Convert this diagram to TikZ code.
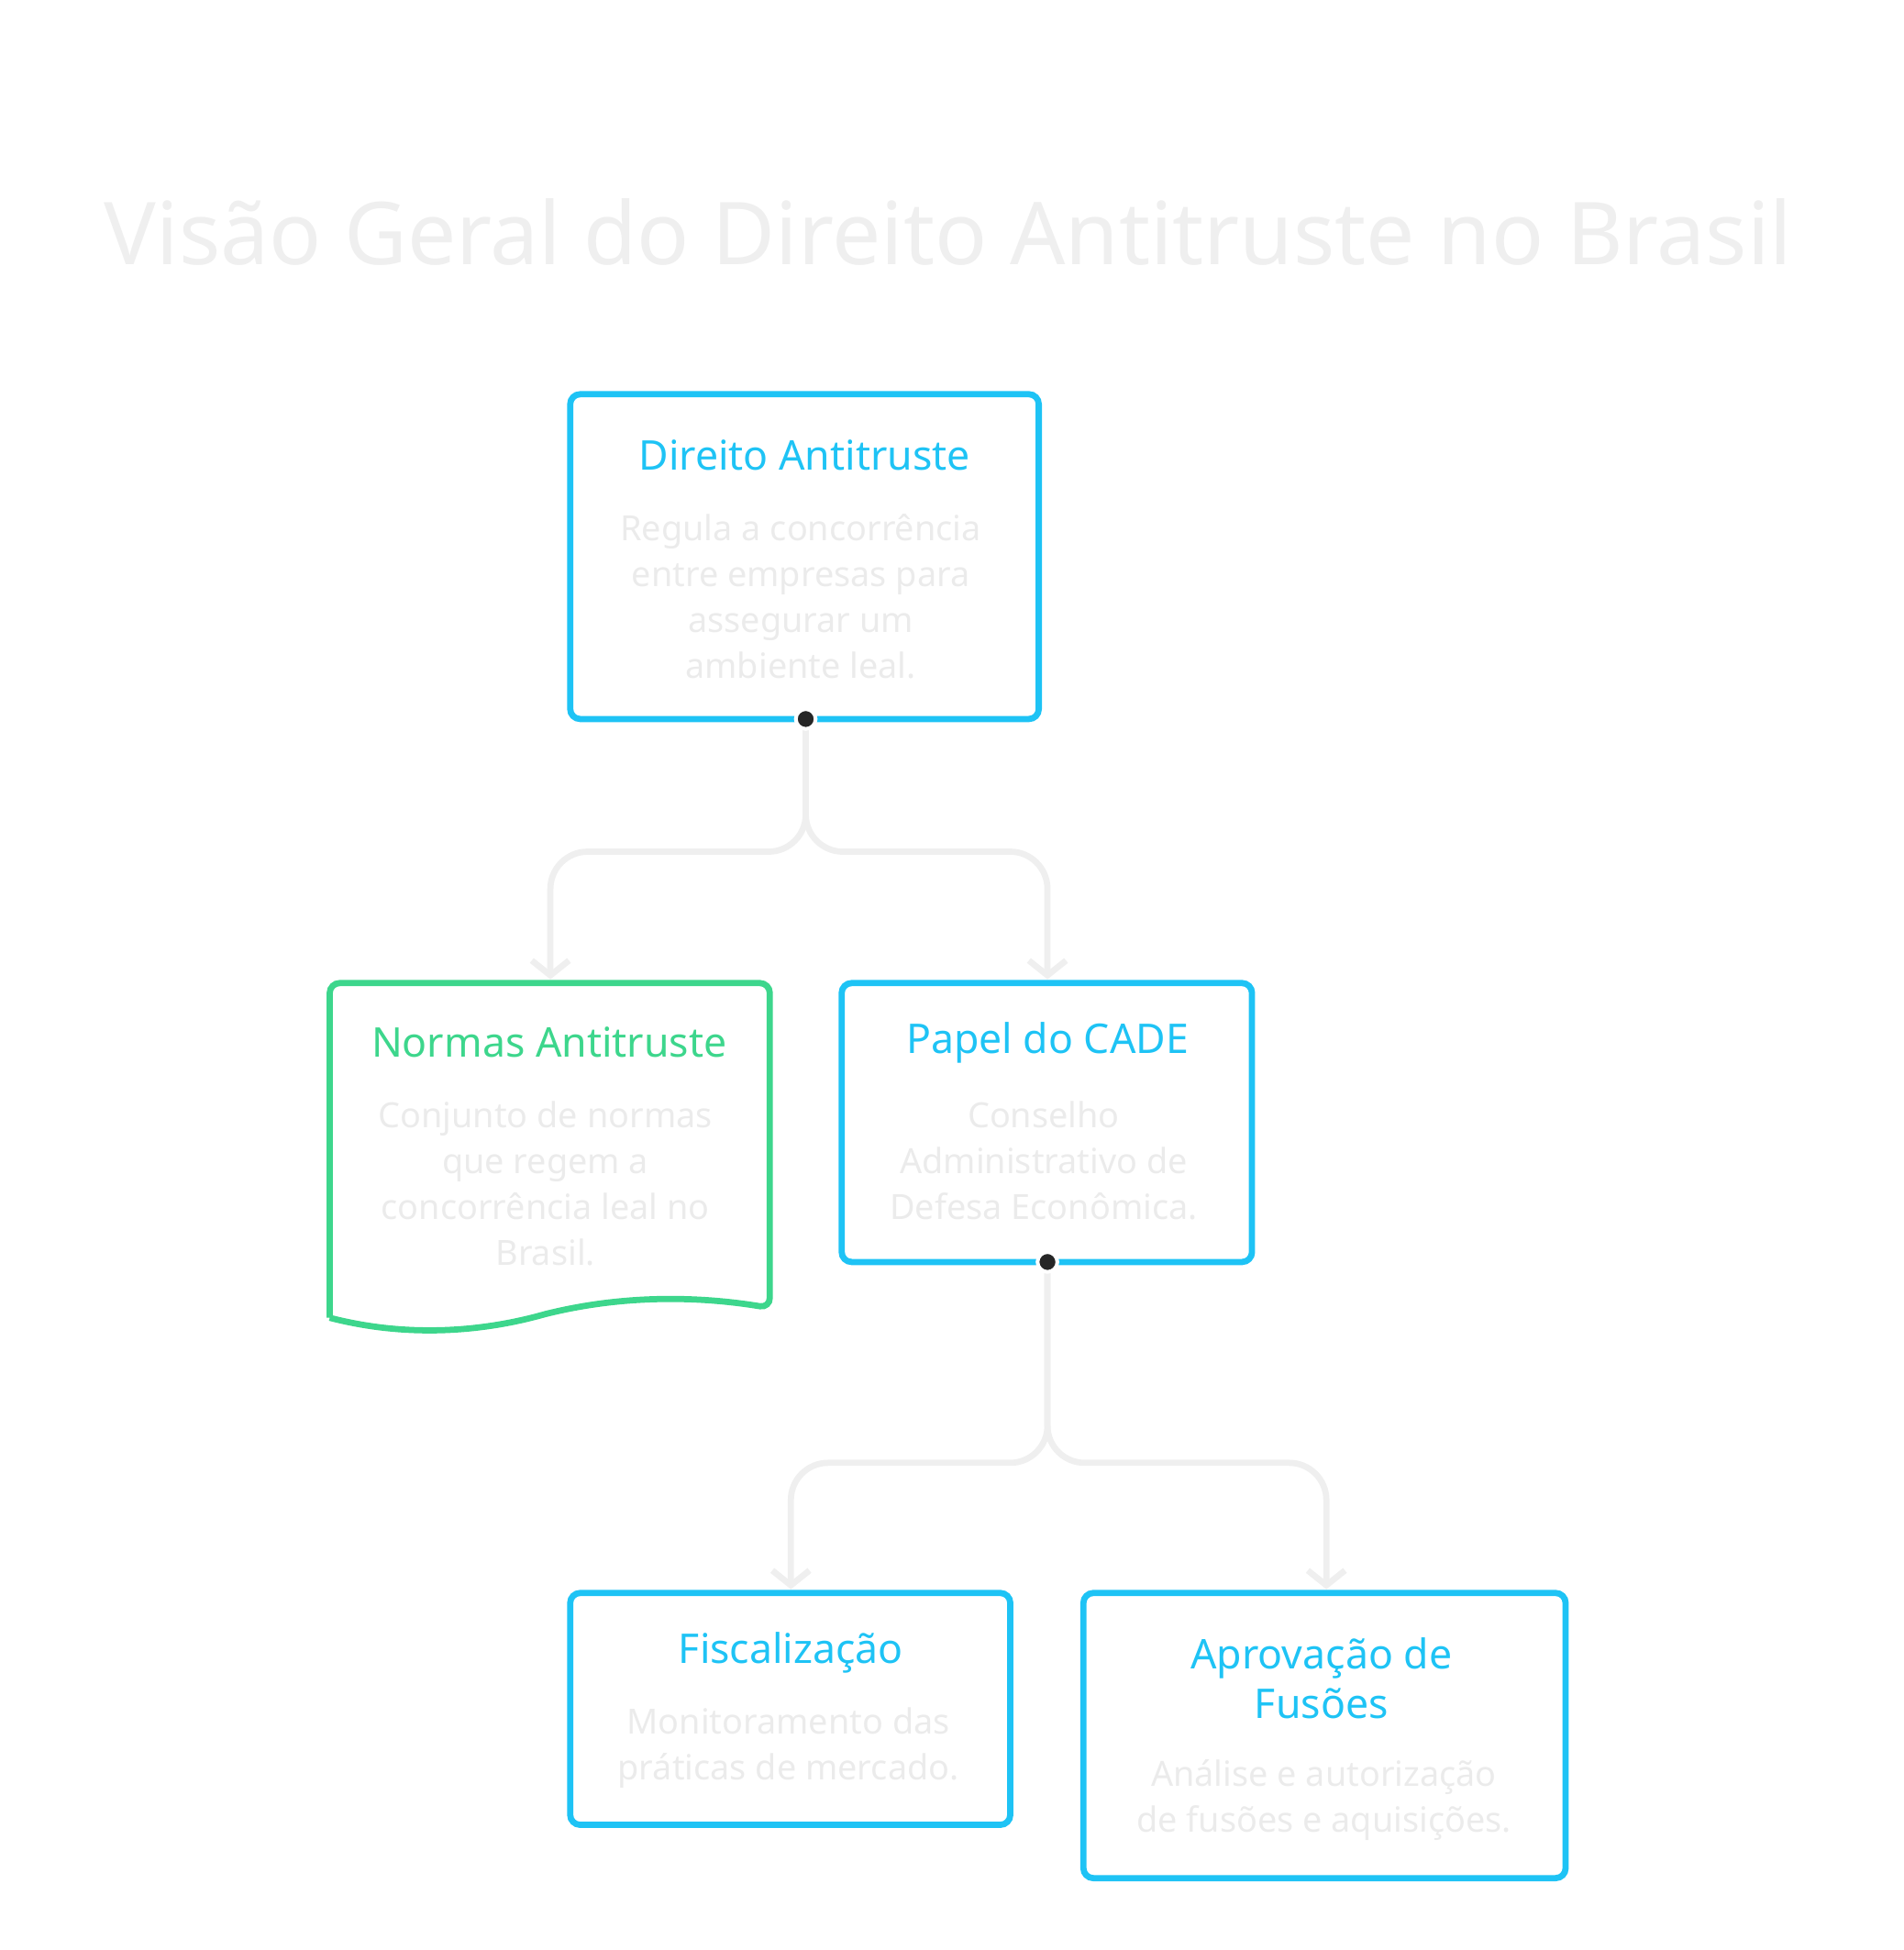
\documentclass[tikz,border=0pt]{standalone}
\usepackage{fontspec}
\setmainfont{Noto Sans}
\usetikzlibrary{arrows.meta}
\definecolor{cblue}{HTML}{1EC3F5}
\definecolor{cgreen}{HTML}{3DD68C}
\definecolor{cgray}{HTML}{EFEFEF}
\definecolor{ctext}{HTML}{EBEBEB}
\begin{document}
\begin{tikzpicture}[x=1pt,y=-1pt,
  box/.style={draw=cblue,line width=5,rounded corners=8},
  ttl/.style={font=\fontsize{33}{40}\selectfont,align=center,inner sep=0},
  bdy/.style={text=ctext,font=\fontsize{28}{37}\selectfont,align=center,inner sep=0},
  con/.style={draw=cgray,line width=5,rounded corners=30,-{Straight Barb[length=12,width=30,line width=5]}},
  dot/.style={circle,fill=black!85,draw=white,line width=3,inner sep=0,minimum size=16}]
\useasboundingbox (0,0) rectangle (1536,1573);
\node[text=cgray,font=\bfseries\fontsize{70}{80}\selectfont] (title) at (765,187) {Visão Geral do Direito Antitruste no Brasil};
% boxes
\draw[box] (460,318) rectangle (838,580);
\node[ttl,text=cblue] (t1) at (649,367) {Direito Antitruste};
\node[bdy] (b1) at (646,481) {Regula a concorrência\\entre empresas para\\assegurar um\\ambiente leal.};
\draw[draw=cgreen,line width=5,rounded corners=8] (266,1063) -- (266,793) -- (621,793) -- (621,1055)
  [rounded corners=0] .. controls (560,1045) and (500,1045) .. (440,1060) .. controls (380,1077) and (320,1077) .. (266,1063);
\node[ttl,text=cgreen] (t2) at (443,841) {Normas Antitruste};
\node[bdy] (b2) at (440,955) {Conjunto de normas\\que regem a\\concorrência leal no\\Brasil.};
\draw[box] (679,793) rectangle (1010,1018);
\node[ttl,text=cblue] (t3) at (845,841) {Papel do CADE};
\node[bdy] (b3) at (842,936) {Conselho\\Administrativo de\\Defesa Econômica.};
\draw[box] (460,1285) rectangle (815,1472);
\node[ttl,text=cblue] (t4) at (638,1333) {Fiscalização};
\node[bdy] (b4) at (636,1410) {Monitoramento das\\práticas de mercado.};
\draw[box] (874,1285) rectangle (1263,1515);
\node[ttl,text=cblue] (t5) at (1066,1354) {Aprovação de\\Fusões};
\node[bdy] (b5) at (1068,1452) {Análise e autorização\\de fusões e aquisições.};
% connectors
\coordinate (s1) at (650,580);
\coordinate (e2) at (444,790);
\coordinate (e3) at (845,790);
\coordinate (s2) at (845,1018);
\coordinate (e4) at (638,1282);
\coordinate (e5) at (1070,1282);
\draw[con] (s1) -- (650,687) -| (e2);
\draw[con] (s1) -- (650,687) -| (e3);
\draw[con] (s2) -- (845,1180) -| (e4);
\draw[con] (s2) -- (845,1180) -| (e5);
\node[dot] (d1) at (s1) {};
\node[dot] (d2) at (s2) {};
\end{tikzpicture}
\end{document}
